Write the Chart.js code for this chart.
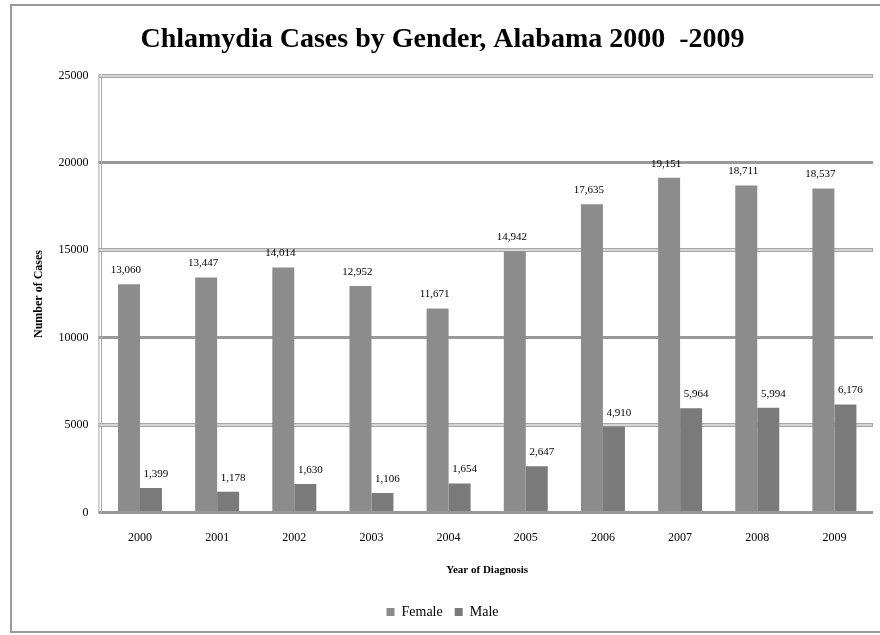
<!DOCTYPE html>
<html>
<head>
<meta charset="utf-8">
<script src="https://cdn.jsdelivr.net/npm/chart.js@4/dist/chart.umd.min.js"></script>
<style>
  html, body { margin: 0; padding: 0; background: #fff; }
  #wrap { width: 880px; height: 635px; }
</style>
</head>
<body>
<div id="wrap"><canvas id="c" width="880" height="635"></canvas></div>
<script>
const years = ['2000','2001','2002','2003','2004','2005','2006','2007','2008','2009'];
const female = [13060, 13447, 14014, 12952, 11671, 14942, 17635, 19151, 18711, 18537];
const male = [1399, 1178, 1630, 1106, 1654, 2647, 4910, 5964, 5994, 6176];
const seriesNames = ['Female', 'Male'];
const yTicks = [0, 5000, 10000, 15000, 20000, 25000];

const SERIF = '"Liberation Serif", "Times New Roman", serif';

const framePlugin = {
  id: 'frame',
  beforeDraw(chart) {
    const ctx = chart.ctx;
    ctx.save();
    ctx.fillStyle = '#fff';
    ctx.fillRect(0, 0, chart.width, chart.height);
    ctx.strokeStyle = '#9a9a9a';
    ctx.lineWidth = 2;
    ctx.strokeRect(11, 5, chart.width + 10, chart.height - 8);
    ctx.restore();
  }
};

const hollowGridPlugin = {
  id: 'hollowGrid',
  beforeDatasetsDraw(chart) {
    const ctx = chart.ctx;
    const y = chart.scales.y;
    const area = chart.chartArea;
    ctx.save();
    ctx.strokeStyle = '#e4e4e4';
    ctx.lineWidth = 1.5;
    yTicks.forEach(v => {
      if (v % 10000 !== 0) {
        const py = Math.round(y.getPixelForValue(v));
        ctx.beginPath();
        ctx.moveTo(area.left - 3, py);
        ctx.lineTo(area.right - 1, py);
        ctx.stroke();
      }
    });
    ctx.strokeStyle = '#a8a8a8';
    ctx.lineWidth = 1;
    ctx.beginPath();
    ctx.moveTo(area.left - 2.5, area.top);
    ctx.lineTo(area.left - 2.5, area.bottom);
    ctx.stroke();
    ctx.restore();
  }
};

const labelPlugin = {
  id: 'valueLabels',
  afterDatasetsDraw(chart) {
    const ctx = chart.ctx;
    ctx.save();
    ctx.font = '11px ' + SERIF;
    ctx.fillStyle = '#000';
    ctx.textAlign = 'center';
    ctx.textBaseline = 'middle';
    chart.data.datasets.forEach((ds, di) => {
      const meta = chart.getDatasetMeta(di);
      const off = di === 0 ? -3 : 5;
      meta.data.forEach((el, i) => {
        const txt = ds.data[i].toLocaleString('en-US');
        ctx.fillText(txt, el.x + off, el.y - 14);
      });
    });
    ctx.restore();
  }
};

new Chart(document.getElementById('c'), {
  type: 'bar',
  data: {
    labels: years,
    datasets: [
      { label: seriesNames[0], data: female, backgroundColor: '#8c8c8c', borderWidth: 0 },
      { label: seriesNames[1], data: male, backgroundColor: '#7a7a7a', borderWidth: 0 }
    ]
  },
  options: {
    responsive: false,
    animation: false,
    devicePixelRatio: 1,
    layout: { padding: { top: 5, left: 12, right: 7, bottom: 6 } },
    datasets: { bar: { categoryPercentage: 0.57, barPercentage: 1.0 } },
    plugins: {
      title: {
        display: true,
        text: 'Chlamydia Cases by Gender, Alabama 2000  -2009',
        color: '#000',
        font: { family: SERIF, size: 28, weight: 'bold' },
        padding: { top: 18, bottom: 19 }
      },
      legend: {
        position: 'bottom',
        labels: {
          boxWidth: 8, boxHeight: 8, color: '#000',
          font: { family: SERIF, size: 14 },
          padding: 12
        }
      },
      tooltip: { enabled: false }
    },
    scales: {
      x: {
        grid: { display: false, drawTicks: false },
        border: { display: false },
        ticks: { color: '#000', font: { family: SERIF, size: 12 }, padding: 18 },
        title: {
          display: true, text: 'Year of Diagnosis', color: '#000',
          font: { family: SERIF, size: 11, weight: 'bold' },
          padding: { top: 1, bottom: 16 }
        }
      },
      y: {
        min: 0, max: 25000,
        afterBuildTicks(scale) { scale.ticks = yTicks.map(v => ({ value: v })); },
        ticks: {
          color: '#000', font: { family: SERIF, size: 12 }, padding: 10,
          callback: v => String(v)
        },
        grid: {
          color: ctx => (ctx.tick && ctx.tick.value % 10000 === 0) ? '#999999' : '#a6a6a6',
          lineWidth: ctx => (ctx.tick && ctx.tick.value % 10000 === 0) ? 3 : 4,
          tickLength: 3,
          drawTicks: true
        },
        border: { display: true, color: '#a8a8a8', width: 1 },
        title: {
          display: true, text: 'Number of Cases', color: '#000',
          font: { family: SERIF, size: 12, weight: 'bold' },
          padding: { top: 20, bottom: 2 }
        }
      }
    }
  },
  plugins: [framePlugin, hollowGridPlugin, labelPlugin]
});
</script>
</body>
</html>
